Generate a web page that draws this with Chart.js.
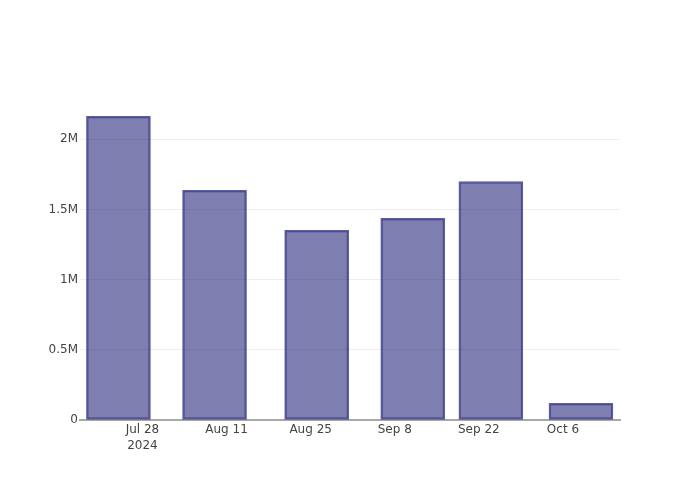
<!DOCTYPE html>
<html>
<head>
<meta charset="utf-8">
<script src="https://cdn.jsdelivr.net/npm/chart.js@4/dist/chart.umd.min.js"></script>
<style>
  html, body { margin: 0; padding: 0; background: #fff; }
  #wrap { width: 700px; height: 500px; }
</style>
</head>
<body>
<div id="wrap"><canvas id="c" width="700" height="500"></canvas></div>
<script>
// Data
const barDates = ['2024-07-24', '2024-08-09', '2024-08-26', '2024-09-11', '2024-09-24', '2024-10-09'];
const barValues = [2164000, 1637000, 1352000, 1437000, 1698000, 119000];
const xTickDates = ['2024-07-28', '2024-08-11', '2024-08-25', '2024-09-08', '2024-09-22', '2024-10-06'];
const yTickValues = [0, 500000, 1000000, 1500000, 2000000];
const yTickLabels = ['0', '0.5M', '1M', '1.5M', '2M'];
const axisRange = { xMin: '2024-07-17 14:24', xMax: '2024-10-15 12:00', yMax: 2280000 };

const MONTHS = ['Jan','Feb','Mar','Apr','May','Jun','Jul','Aug','Sep','Oct','Nov','Dec'];
const origin = Date.UTC(2024, 6, 28);
function dayOf(s) {
  const [d, t] = s.split(' ');
  const [y, m, dd] = d.split('-').map(Number);
  let ms = Date.UTC(y, m - 1, dd);
  if (t) { const [hh, mm] = t.split(':').map(Number); ms += (hh * 60 + mm) * 60000; }
  return (ms - origin) / 86400000;
}
function labelOf(day) {
  const dt = new Date(origin + day * 86400000);
  const txt = MONTHS[dt.getUTCMonth()] + ' ' + dt.getUTCDate();
  return day === dayOf(xTickDates[0]) ? [txt, String(dt.getUTCFullYear())] : txt;
}

const points = barDates.map((d, i) => ({ x: dayOf(d), y: barValues[i] }));
const xTicks = xTickDates.map(dayOf);

Chart.defaults.font.family = '"DejaVu Sans", Verdana, sans-serif';
Chart.defaults.font.size = 12;
Chart.defaults.color = '#444';

new Chart(document.getElementById('c'), {
  type: 'bar',
  data: {
    datasets: [{
      data: points,
      backgroundColor: 'rgba(40,40,125,0.6)',
      borderColor: 'rgba(40,40,125,0.75)',
      borderWidth: 1.6,
      borderSkipped: false,
      barThickness: 64
    }]
  },
  options: {
    responsive: false,
    animation: false,
    layout: { padding: { top: 100, right: 80, left: 0, bottom: 0 } },
    plugins: { legend: { display: false }, tooltip: { enabled: false } },
    scales: {
      x: {
        type: 'linear',
        min: dayOf(axisRange.xMin),
        max: dayOf(axisRange.xMax),
        offset: false,
        grid: { display: false, drawTicks: false },
        border: { display: true, color: '#a8a8a8', width: 2 },
        afterBuildTicks: (s) => { s.ticks = xTicks.map(v => ({ value: v })); },
        afterFit: (s) => { s.height = 80; },
        ticks: {
          autoSkip: false,
          maxRotation: 0,
          padding: 2,
          font: { lineHeight: 1.3 },
          color: '#444',
          callback: (v) => labelOf(v)
        }
      },
      y: {
        min: 0,
        max: axisRange.yMax,
        grid: { color: '#eeeeee', lineWidth: 1, drawTicks: false },
        border: { display: false },
        afterBuildTicks: (s) => { s.ticks = yTickValues.map(v => ({ value: v })); },
        afterFit: (s) => { s.width = 80; },
        ticks: {
          padding: 2,
          color: '#444',
          callback: (v) => { const i = yTickValues.indexOf(v); return i >= 0 ? yTickLabels[i] : ''; }
        }
      }
    }
  }
});
</script>
</body>
</html>
